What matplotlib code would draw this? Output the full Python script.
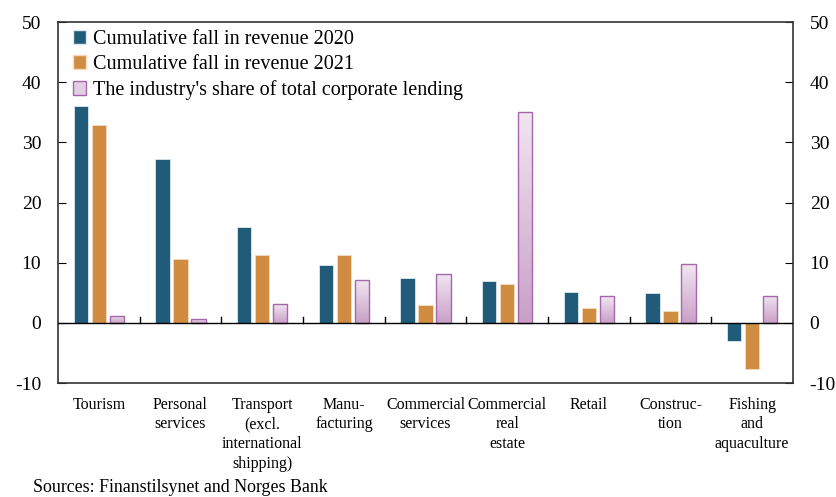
import numpy as np
import matplotlib
matplotlib.use("Agg")
import matplotlib.pyplot as plt
from matplotlib.colors import LinearSegmentedColormap
from matplotlib.patches import Patch

categories = ["Tourism", "Personal\nservices", "Transport\n(excl.\ninternational\nshipping)",
              "Manu-\nfacturing", "Commercial\nservices", "Commercial\nreal\nestate",
              "Retail", "Construc-\ntion", "Fishing\nand\naquaculture"]
fall_2020 = [36.0, 27.3, 15.9, 9.6, 7.5, 6.9, 5.2, 5.0, -3.1]
fall_2021 = [32.8, 10.6, 11.2, 11.3, 3.0, 6.4, 2.5, 2.0, -7.7]
lending_share = [1.2, 0.6, 3.1, 7.1, 8.1, 35.0, 4.4, 9.7, 4.5]
yticks = [-10, 0, 10, 20, 30, 40, 50]
series_labels = ["Cumulative fall in revenue 2020", "Cumulative fall in revenue 2021",
                 "The industry's share of total corporate lending"]

plt.rcParams['font.family'] = ['Liberation Serif', 'DejaVu Serif']
plt.rcParams['axes.unicode_minus'] = False

c2020 = "#215b7a"
c2021 = "#d08c40"
cedge = "#a468a8"
grad = LinearSegmentedColormap.from_list("g", ["#c99fc8", "#f1e6f1"])

fig = plt.figure(figsize=(8.37, 4.97), dpi=100)
ax = fig.add_axes([58/837, (497-383)/497, (793-58)/837, (383-22)/497])

x = np.arange(len(categories))
w = 0.175
off = 0.22
ax.bar(x - off, fall_2020, w, color=c2020, edgecolor="#dfe8ee", linewidth=0.6, zorder=3)
ax.bar(x, fall_2021, w, color=c2021, edgecolor="#f3dcc0", linewidth=0.6, zorder=3)
bars = ax.bar(x + off, lending_share, w, color="none", edgecolor=cedge, linewidth=1.0, zorder=4)

gimg = np.linspace(0, 1, 256).reshape(-1, 1)
for b in bars:
    bx, by = b.get_x(), b.get_y()
    bw, bh = b.get_width(), b.get_height()
    im = ax.imshow(gimg, cmap=grad, origin="lower", aspect="auto",
                   extent=[bx, bx + bw, by, by + bh], zorder=3)
    im.set_clip_path(b)

ax.axhline(0, color="black", linewidth=1.0, zorder=5)
ax.set_xlim(-0.5, len(categories) - 0.5)
ax.set_ylim(-10, 50)
ax.set_yticks(yticks)
ax.tick_params(axis="y", direction="in", length=6, labelsize=14, right=True, labelright=True,
               pad=12)
ax.set_xticks(x)
ax.set_xticklabels(categories, fontsize=11.5, linespacing=1.3)
ax.tick_params(axis="x", length=0, pad=10)

# small boundary ticks on zero line
for b in np.arange(0.5, len(categories) - 0.5, 1.0):
    ax.plot([b, b], [0, 0.9], color="black", linewidth=1.0, zorder=5)

for s in ax.spines.values():
    s.set_color("#333333")
    s.set_linewidth(1.2)

handles = [Patch(facecolor=c2020, edgecolor="#dfe8ee"),
           Patch(facecolor=c2021, edgecolor="#f3dcc0"),
           Patch(facecolor="#e3cde3", edgecolor=cedge)]
ax.legend(handles, series_labels, loc="upper left", frameon=False, fontsize=14.5,
          handlelength=0.65, handleheight=0.65, handletextpad=0.3, labelspacing=0.3,
          borderaxespad=0.0, bbox_to_anchor=(0.01, 1.0))

fig.text(33/837, 1 - 488/497, "Sources: Finanstilsynet and Norges Bank", fontsize=12.9,
         va="center", ha="left")

fig.savefig("out.png", dpi=100)
